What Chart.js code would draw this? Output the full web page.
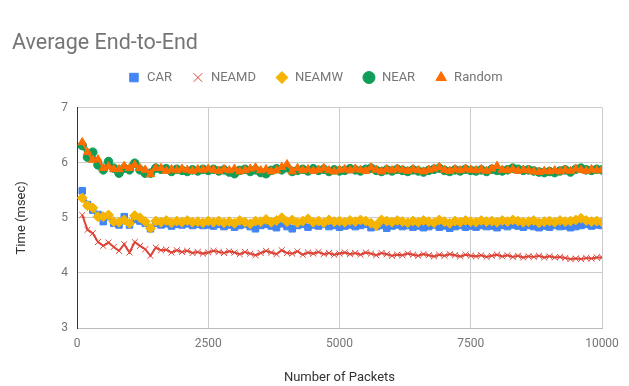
<!DOCTYPE html>
<html>
<head>
<meta charset="utf-8">
<script src="https://cdn.jsdelivr.net/npm/chart.js@4/dist/chart.umd.min.js"></script>
<style>
  html, body { margin: 0; padding: 0; background: #ffffff; }
  #wrap { width: 629px; height: 386px; }
</style>
</head>
<body>
<div id="wrap"><canvas id="chart" width="629" height="386"></canvas></div>
<script>
// Number of packets sent (x values)
const packets = [
  100, 200, 300, 400, 500, 600, 700, 800, 900, 1000,
  1100, 1200, 1300, 1400, 1500, 1600, 1700, 1800, 1900, 2000,
  2100, 2200, 2300, 2400, 2500, 2600, 2700, 2800, 2900, 3000,
  3100, 3200, 3300, 3400, 3500, 3600, 3700, 3800, 3900, 4000,
  4100, 4200, 4300, 4400, 4500, 4600, 4700, 4800, 4900, 5000,
  5100, 5200, 5300, 5400, 5500, 5600, 5700, 5800, 5900, 6000,
  6100, 6200, 6300, 6400, 6500, 6600, 6700, 6800, 6900, 7000,
  7100, 7200, 7300, 7400, 7500, 7600, 7700, 7800, 7900, 8000,
  8100, 8200, 8300, 8400, 8500, 8600, 8700, 8800, 8900, 9000,
  9100, 9200, 9300, 9400, 9500, 9600, 9700, 9800, 9900, 10000
];

// Average end-to-end delay per protocol (msec)
const car = [
  5.49, 5.24, 5.14, 5.06, 4.93, 5.02, 4.90, 4.87, 5.02, 4.87,
  4.97, 4.94, 4.90, 4.80, 4.90, 4.87, 4.89, 4.85, 4.88, 4.87,
  4.89, 4.86, 4.88, 4.86, 4.87, 4.85, 4.88, 4.84, 4.87, 4.83,
  4.86, 4.88, 4.84, 4.80, 4.86, 4.88, 4.85, 4.82, 4.89, 4.84,
  4.80, 4.86, 4.88, 4.83, 4.87, 4.85, 4.88, 4.84, 4.86, 4.83,
  4.85, 4.87, 4.84, 4.86, 4.88, 4.82, 4.84, 4.86, 4.81, 4.85,
  4.87, 4.84, 4.86, 4.83, 4.85, 4.82, 4.84, 4.87, 4.83, 4.85,
  4.81, 4.84, 4.86, 4.83, 4.85, 4.83, 4.86, 4.84, 4.85, 4.82,
  4.86, 4.84, 4.87, 4.85, 4.83, 4.86, 4.84, 4.82, 4.85, 4.83,
  4.86, 4.84, 4.85, 4.82, 4.84, 4.86, 4.88, 4.85, 4.87, 4.86
];
const neamd = [
  5.05, 4.78, 4.72, 4.56, 4.49, 4.55, 4.47, 4.40, 4.52, 4.37,
  4.56, 4.49, 4.43, 4.31, 4.46, 4.41, 4.42, 4.37, 4.41, 4.38,
  4.40, 4.36, 4.38, 4.35, 4.37, 4.40, 4.38, 4.36, 4.39, 4.37,
  4.34, 4.38, 4.35, 4.32, 4.36, 4.40, 4.37, 4.34, 4.41, 4.36,
  4.35, 4.39, 4.33, 4.37, 4.35, 4.38, 4.34, 4.36, 4.33, 4.35,
  4.37, 4.34, 4.36, 4.33, 4.37, 4.35, 4.32, 4.36, 4.34, 4.31,
  4.33, 4.32, 4.35, 4.33, 4.31, 4.34, 4.32, 4.30, 4.33, 4.31,
  4.34, 4.32, 4.30, 4.33, 4.31, 4.30, 4.32, 4.29, 4.31, 4.33,
  4.30, 4.32, 4.29, 4.31, 4.28, 4.30, 4.29, 4.31, 4.28, 4.30,
  4.28, 4.29, 4.27, 4.25, 4.26, 4.25, 4.27, 4.26, 4.28, 4.28
];
const neamw = [
  5.36, 5.22, 5.18, 5.02, 5.02, 5.05, 4.93, 4.92, 4.96, 4.90,
  5.04, 5.00, 4.93, 4.81, 4.94, 4.92, 4.95, 4.91, 4.94, 4.92,
  4.95, 4.92, 4.93, 4.91, 4.94, 4.92, 4.94, 4.91, 4.93, 4.90,
  4.95, 4.92, 4.89, 4.94, 4.93, 4.97, 4.92, 4.95, 5.00, 4.93,
  4.96, 4.91, 4.94, 4.98, 4.92, 4.94, 4.91, 4.96, 4.93, 4.94,
  4.92, 4.95, 4.93, 4.96, 4.94, 4.90, 4.86, 4.96, 4.94, 4.92,
  4.95, 4.93, 4.91, 4.94, 4.92, 4.95, 4.93, 4.91, 4.96, 4.93,
  4.90, 4.94, 4.92, 4.95, 4.93, 4.92, 4.95, 4.93, 4.94, 4.92,
  4.95, 4.93, 4.96, 4.94, 4.92, 4.93, 4.95, 4.91, 4.93, 4.94,
  4.92, 4.95, 4.93, 4.94, 4.96, 4.99, 4.95, 4.93, 4.94, 4.92
];
const near = [
  6.31, 6.10, 6.19, 5.96, 5.87, 6.02, 5.90, 5.81, 5.90, 5.87,
  5.99, 5.87, 5.81, 5.81, 5.90, 5.88, 5.89, 5.84, 5.88, 5.86,
  5.84, 5.87, 5.85, 5.88, 5.86, 5.88, 5.85, 5.87, 5.83, 5.80,
  5.86, 5.88, 5.84, 5.87, 5.82, 5.80, 5.86, 5.89, 5.87, 5.91,
  5.84, 5.86, 5.88, 5.85, 5.89, 5.86, 5.88, 5.84, 5.87, 5.85,
  5.86, 5.89, 5.87, 5.85, 5.88, 5.90, 5.86, 5.84, 5.87, 5.85,
  5.88, 5.86, 5.84, 5.87, 5.85, 5.83, 5.86, 5.88, 5.90, 5.86,
  5.84, 5.87, 5.85, 5.88, 5.86, 5.85, 5.87, 5.84, 5.88, 5.86,
  5.85, 5.87, 5.90, 5.88, 5.86, 5.87, 5.85, 5.83, 5.82, 5.84,
  5.82, 5.85, 5.87, 5.83, 5.88, 5.90, 5.87, 5.86, 5.88, 5.87
];
const random = [
  6.37, 6.19, 6.05, 6.06, 5.90, 5.93, 5.88, 5.88, 5.94, 5.90,
  5.96, 5.90, 5.87, 5.79, 5.90, 5.90, 5.85, 5.88, 5.86, 5.89,
  5.87, 5.85, 5.88, 5.87, 5.89, 5.87, 5.85, 5.88, 5.86, 5.89,
  5.84, 5.86, 5.89, 5.91, 5.86, 5.88, 5.84, 5.86, 5.92, 5.97,
  5.84, 5.90, 5.86, 5.88, 5.85, 5.87, 5.90, 5.86, 5.84, 5.87,
  5.88, 5.86, 5.89, 5.87, 5.85, 5.91, 5.87, 5.84, 5.88, 5.86,
  5.89, 5.87, 5.85, 5.88, 5.86, 5.84, 5.87, 5.89, 5.92, 5.87,
  5.85, 5.88, 5.86, 5.89, 5.87, 5.86, 5.88, 5.85, 5.89, 5.94,
  5.87, 5.86, 5.88, 5.85, 5.87, 5.86, 5.84, 5.83, 5.85, 5.84,
  5.86, 5.84, 5.87, 5.85, 5.89, 5.87, 5.85, 5.88, 5.86, 5.87
];

// Axis tick values
const xTicks = [0, 2500, 5000, 7500, 10000];
const yTicks = [3, 4, 5, 6, 7];

Chart.defaults.font.family = 'Roboto, "Noto Sans", sans-serif';

function series(label, values, color, style, radius, order) {
  return {
    label: label,
    data: values,
    borderColor: color,
    backgroundColor: color,
    borderWidth: 2,
    pointStyle: style,
    pointRadius: radius,
    pointHoverRadius: radius,
    pointBackgroundColor: color,
    pointBorderColor: color,
    pointBorderWidth: 1,
    tension: 0,
    order: order
  };
}

new Chart(document.getElementById('chart'), {
  type: 'line',
  data: {
    labels: packets,
    datasets: [
      series('CAR', car, '#4285F4', 'rect', 4.6, 5),
      series('NEAMD', neamd, '#DB4437', 'crossRot', 4.2, 4),
      series('NEAMW', neamw, '#F4B400', 'rectRot', 5, 3),
      series('NEAR', near, '#0F9D58', 'circle', 4.3, 2),
      series('Random', random, '#FF6D00', 'triangle', 4.8, 1)
    ]
  },
  options: {
    responsive: false,
    devicePixelRatio: 1,
    animation: false,
    layout: { padding: { left: 12, right: 11, top: 0, bottom: 0 } },
    plugins: {
      title: {
        display: true,
        text: 'Average End-to-End',
        align: 'start',
        color: '#757575',
        font: { size: 21.5, weight: 'normal', lineHeight: 0.7 },
        padding: { top: 36.5, bottom: 0 }
      },
      // blank spacer between the legend row and the plot area
      subtitle: {
        display: true,
        text: ' ',
        weight: 500,
        font: { size: 1 },
        padding: { top: 12.3, bottom: 0 }
      },
      legend: {
        display: true,
        position: 'top',
        align: 'center',
        labels: {
          usePointStyle: true,
          boxWidth: 13,
          boxHeight: 8.5,
          padding: 19.5,
          color: '#757575',
          font: { size: 13 },
          sort: (a, b) => a.datasetIndex - b.datasetIndex
        }
      },
      tooltip: { enabled: false }
    },
    scales: {
      x: {
        type: 'linear',
        min: 0,
        max: 10000,
        afterBuildTicks: s => { s.ticks = xTicks.map(v => ({ value: v })); },
        afterFit: s => { s.height = 58; s.paddingRight = 27; },
        ticks: {
          color: '#757575',
          font: { size: 12 },
          padding: 9,
          maxRotation: 0,
          callback: v => String(v)
        },
        grid: { color: '#cccccc', lineWidth: 1, drawTicks: false },
        border: { display: true, color: '#bbbbbb' },
        title: {
          display: true,
          text: 'Number of Packets',
          color: '#333333',
          font: { size: 13 },
          padding: { top: 0, bottom: 0 }
        }
      },
      y: {
        min: 3,
        max: 7,
        afterBuildTicks: s => { s.ticks = yTicks.map(v => ({ value: v })); },
        afterFit: s => { s.width = 65; },
        ticks: {
          color: '#757575',
          font: { size: 12 },
          padding: 9,
          callback: v => String(v)
        },
        grid: { color: '#cccccc', lineWidth: 1, drawTicks: false },
        border: { display: true, color: '#333333', width: 1 },
        title: {
          display: true,
          text: 'Time (msec)',
          color: '#333333',
          font: { size: 13 },
          padding: { top: 2, bottom: 0 }
        }
      }
    }
  }
});
</script>
</body>
</html>
